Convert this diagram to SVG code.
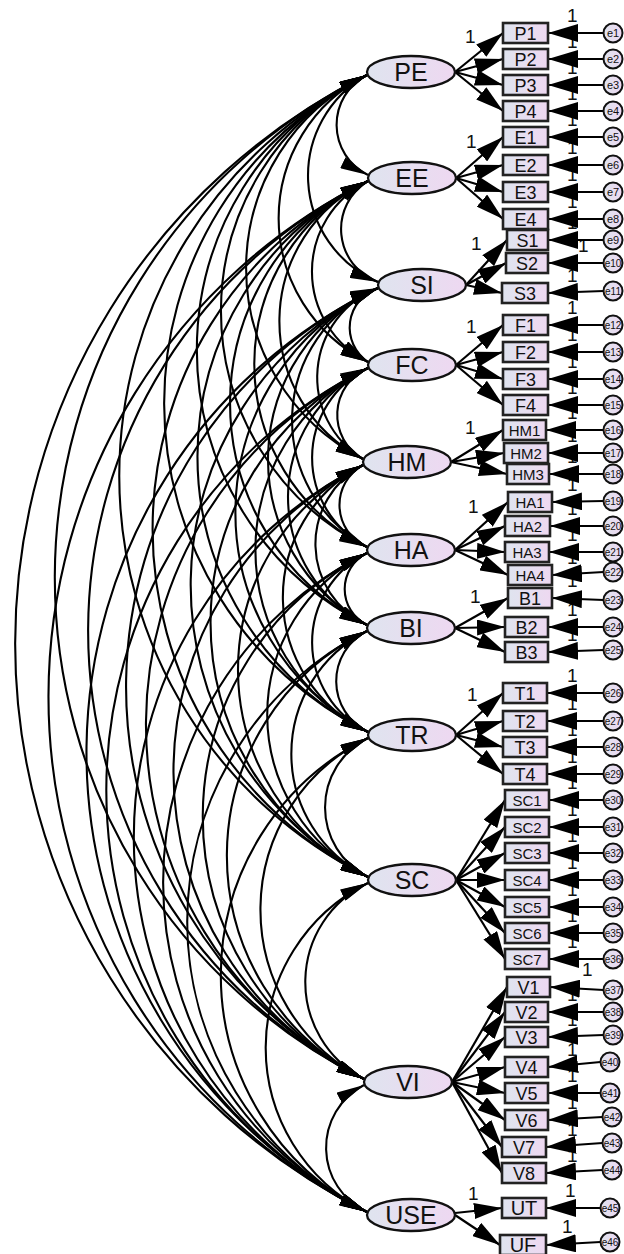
<svg xmlns="http://www.w3.org/2000/svg" width="624" height="1254" viewBox="0 0 624 1254">
<defs>
<linearGradient id="gf" x1="0" y1="0" x2="1" y2="0"><stop offset="0" stop-color="#dfe4ef"/><stop offset="1" stop-color="#eed8f1"/></linearGradient>
<marker id="ah" markerUnits="userSpaceOnUse" markerWidth="28" markerHeight="16" viewBox="0 0 28 16" refX="28" refY="8" orient="auto"><path d="M0,0 L28,8 L0,16 Z" fill="#000"/></marker>
<marker id="ae" markerUnits="userSpaceOnUse" markerWidth="30" markerHeight="18" viewBox="0 0 30 18" refX="30" refY="9" orient="auto"><path d="M0,0 L30,9 L0,18 Z" fill="#000"/></marker>
<marker id="ac" markerUnits="userSpaceOnUse" markerWidth="28" markerHeight="12" viewBox="0 0 28 12" refX="28" refY="6" orient="auto-start-reverse"><path d="M0,0 L28,6 L0,12 Z" fill="#000"/></marker>
<style>
.box{fill:url(#gf);stroke:#222;stroke-width:2.6}
.lat{fill:url(#gf);stroke:#111;stroke-width:2.3}
.err{fill:url(#gf);stroke:#111;stroke-width:2}
.t{font-family:"Liberation Sans",Arial,sans-serif;fill:#111;text-anchor:middle}
.b18{font-size:18px}.b15{font-size:15px}.b20{font-size:20px}.l25{font-size:25px}
.e10{font-size:11px}.e8{font-size:10px}
.one{font-family:"Liberation Sans",Arial,sans-serif;font-size:19px;fill:#111}
.cov{fill:none;stroke:#000;stroke-width:2.1;marker-start:url(#ac);marker-end:url(#ac)}
.ld{stroke:#000;stroke-width:2.2;marker-end:url(#ah)}
.ep{stroke:#000;stroke-width:2.2;marker-end:url(#ae)}
</style>
</defs>
<rect width="624" height="1254" fill="#fff"/>
<g id="connectors">
<g id="covariances">
<path class="cov" d="M367,75 A55.9,55.9 0 0 0 368,175"/>
<path class="cov" d="M367,75 A115.6,115.6 0 0 0 378,282"/>
<path class="cov" d="M367,75 A160.3,160.3 0 0 0 368,362"/>
<path class="cov" d="M367,75 A214.5,214.5 0 0 0 363,459"/>
<path class="cov" d="M367,75 A263.7,263.7 0 0 0 367,547"/>
<path class="cov" d="M367,75 A307.3,307.3 0 0 0 367,625"/>
<path class="cov" d="M367,75 A367,367 0 0 0 368,732"/>
<path class="cov" d="M367,75 A448,448 0 0 0 368,877"/>
<path class="cov" d="M367,75 A560.9,560.9 0 0 0 364,1079"/>
<path class="cov" d="M367,75 A635.2,635.2 0 0 0 367,1212"/>
<path class="cov" d="M368,181 A56.4,56.4 0 0 0 378,282"/>
<path class="cov" d="M368,181 A101.1,101.1 0 0 0 368,362"/>
<path class="cov" d="M368,181 A155.3,155.3 0 0 0 363,459"/>
<path class="cov" d="M368,181 A204.5,204.5 0 0 0 367,547"/>
<path class="cov" d="M368,181 A248,248 0 0 0 367,625"/>
<path class="cov" d="M368,181 A307.8,307.8 0 0 0 368,732"/>
<path class="cov" d="M368,181 A388.8,388.8 0 0 0 368,877"/>
<path class="cov" d="M368,181 A501.7,501.7 0 0 0 364,1079"/>
<path class="cov" d="M368,181 A576,576 0 0 0 367,1212"/>
<path class="cov" d="M378,288 A41.7,41.7 0 0 0 368,362"/>
<path class="cov" d="M378,288 A95.9,95.9 0 0 0 363,459"/>
<path class="cov" d="M378,288 A144.7,144.7 0 0 0 367,547"/>
<path class="cov" d="M378,288 A188.3,188.3 0 0 0 367,625"/>
<path class="cov" d="M378,288 A248,248 0 0 0 368,732"/>
<path class="cov" d="M378,288 A329.1,329.1 0 0 0 368,877"/>
<path class="cov" d="M378,288 A441.9,441.9 0 0 0 364,1079"/>
<path class="cov" d="M378,288 A516.2,516.2 0 0 0 367,1212"/>
<path class="cov" d="M368,368 A50.9,50.9 0 0 0 363,459"/>
<path class="cov" d="M368,368 A100,100 0 0 0 367,547"/>
<path class="cov" d="M368,368 A143.6,143.6 0 0 0 367,625"/>
<path class="cov" d="M368,368 A203.4,203.4 0 0 0 368,732"/>
<path class="cov" d="M368,368 A284.4,284.4 0 0 0 368,877"/>
<path class="cov" d="M368,368 A397.2,397.2 0 0 0 364,1079"/>
<path class="cov" d="M368,368 A471.5,471.5 0 0 0 367,1212"/>
<path class="cov" d="M363,465 A45.8,45.8 0 0 0 367,547"/>
<path class="cov" d="M363,465 A89.4,89.4 0 0 0 367,625"/>
<path class="cov" d="M363,465 A149.2,149.2 0 0 0 368,732"/>
<path class="cov" d="M363,465 A230.2,230.2 0 0 0 368,877"/>
<path class="cov" d="M363,465 A343,343 0 0 0 364,1079"/>
<path class="cov" d="M363,465 A417.3,417.3 0 0 0 367,1212"/>
<path class="cov" d="M367,553 A40.2,40.2 0 0 0 367,625"/>
<path class="cov" d="M367,553 A100,100 0 0 0 368,732"/>
<path class="cov" d="M367,553 A181,181 0 0 0 368,877"/>
<path class="cov" d="M367,553 A293.9,293.9 0 0 0 364,1079"/>
<path class="cov" d="M367,553 A368.2,368.2 0 0 0 367,1212"/>
<path class="cov" d="M367,631 A56.4,56.4 0 0 0 368,732"/>
<path class="cov" d="M367,631 A137.4,137.4 0 0 0 368,877"/>
<path class="cov" d="M367,631 A250.3,250.3 0 0 0 364,1079"/>
<path class="cov" d="M367,631 A324.6,324.6 0 0 0 367,1212"/>
<path class="cov" d="M368,738 A77.7,77.7 0 0 0 368,877"/>
<path class="cov" d="M368,738 A190.5,190.5 0 0 0 364,1079"/>
<path class="cov" d="M368,738 A264.8,264.8 0 0 0 367,1212"/>
<path class="cov" d="M368,883 A109.5,109.5 0 0 0 364,1079"/>
<path class="cov" d="M368,883 A183.8,183.8 0 0 0 367,1212"/>
<path class="cov" d="M364,1085 A70.9,70.9 0 0 0 367,1212"/>
</g>
<g id="loadings">
<line class="ld" x1="455" y1="72" x2="503" y2="33"/>
<line class="ld" x1="455" y1="72" x2="503" y2="59"/>
<line class="ld" x1="455" y1="72" x2="503" y2="85"/>
<line class="ld" x1="455" y1="72" x2="503" y2="111"/>
<line class="ld" x1="456" y1="178" x2="503" y2="137"/>
<line class="ld" x1="456" y1="178" x2="503" y2="165"/>
<line class="ld" x1="456" y1="178" x2="503" y2="192"/>
<line class="ld" x1="456" y1="178" x2="503" y2="219"/>
<line class="ld" x1="466" y1="285" x2="507" y2="240"/>
<line class="ld" x1="466" y1="285" x2="506" y2="263"/>
<line class="ld" x1="466" y1="285" x2="502" y2="293"/>
<line class="ld" x1="456" y1="365" x2="503" y2="325"/>
<line class="ld" x1="456" y1="365" x2="503" y2="352"/>
<line class="ld" x1="456" y1="365" x2="503" y2="379"/>
<line class="ld" x1="456" y1="365" x2="503" y2="405"/>
<line class="ld" x1="451" y1="462" x2="503" y2="430"/>
<line class="ld" x1="451" y1="462" x2="504" y2="453"/>
<line class="ld" x1="451" y1="462" x2="507" y2="474"/>
<line class="ld" x1="455" y1="550" x2="508" y2="502"/>
<line class="ld" x1="455" y1="550" x2="505" y2="526"/>
<line class="ld" x1="455" y1="550" x2="505" y2="552"/>
<line class="ld" x1="455" y1="550" x2="508" y2="575"/>
<line class="ld" x1="455" y1="628" x2="508" y2="598"/>
<line class="ld" x1="455" y1="628" x2="505" y2="627"/>
<line class="ld" x1="455" y1="628" x2="505" y2="652"/>
<line class="ld" x1="456" y1="735" x2="503" y2="693"/>
<line class="ld" x1="456" y1="735" x2="503" y2="721"/>
<line class="ld" x1="456" y1="735" x2="503" y2="747"/>
<line class="ld" x1="456" y1="735" x2="503" y2="774"/>
<line class="ld" x1="456" y1="880" x2="505" y2="800"/>
<line class="ld" x1="456" y1="880" x2="505" y2="827"/>
<line class="ld" x1="456" y1="880" x2="505" y2="853"/>
<line class="ld" x1="456" y1="880" x2="505" y2="880"/>
<line class="ld" x1="456" y1="880" x2="505" y2="907"/>
<line class="ld" x1="456" y1="880" x2="505" y2="933"/>
<line class="ld" x1="456" y1="880" x2="505" y2="959"/>
<line class="ld" x1="452" y1="1082" x2="507" y2="987"/>
<line class="ld" x1="452" y1="1082" x2="505" y2="1012"/>
<line class="ld" x1="452" y1="1082" x2="505" y2="1037"/>
<line class="ld" x1="452" y1="1082" x2="505" y2="1067"/>
<line class="ld" x1="452" y1="1082" x2="505" y2="1093"/>
<line class="ld" x1="452" y1="1082" x2="505" y2="1120"/>
<line class="ld" x1="452" y1="1082" x2="502" y2="1147"/>
<line class="ld" x1="452" y1="1082" x2="502" y2="1173"/>
<line class="ld" x1="455" y1="1213" x2="502" y2="1208"/>
<line class="ld" x1="455" y1="1215" x2="500" y2="1245"/>
</g>
<g id="loading-labels" class="one">
<text x="465" y="43">1</text>
<text x="466" y="148">1</text>
<text x="471" y="250">1</text>
<text x="466" y="333">1</text>
<text x="465" y="434">1</text>
<text x="468" y="513">1</text>
<text x="470" y="603">1</text>
<text x="467" y="701">1</text>
<text x="468" y="1200">1</text>
</g>
<g id="error-labels" class="one">
<text x="567" y="22">1</text><text x="567" y="48">1</text><text x="567" y="74">1</text><text x="567" y="100">1</text>
<text x="567" y="126">1</text><text x="567" y="154">1</text><text x="567" y="181">1</text><text x="567" y="208">1</text>
<text x="567" y="229">1</text><text x="578" y="252">1</text><text x="567" y="282">1</text>
<text x="567" y="314">1</text><text x="567" y="341">1</text><text x="567" y="368">1</text><text x="567" y="394">1</text>
<text x="567" y="419">1</text><text x="567" y="442">1</text><text x="567" y="463">1</text>
<text x="567" y="491">1</text><text x="567" y="515">1</text><text x="567" y="541">1</text><text x="567" y="564">1</text>
<text x="567" y="587">1</text><text x="567" y="616">1</text><text x="567" y="641">1</text>
<text x="567" y="682">1</text><text x="567" y="710">1</text><text x="567" y="736">1</text><text x="567" y="763">1</text>
<text x="567" y="789">1</text><text x="567" y="816">1</text><text x="567" y="842">1</text><text x="567" y="869">1</text>
<text x="567" y="896">1</text><text x="567" y="922">1</text><text x="567" y="948">1</text>
<text x="582" y="976">1</text><text x="567" y="1001">1</text><text x="567" y="1026">1</text><text x="567" y="1056">1</text>
<text x="567" y="1082">1</text><text x="567" y="1109">1</text><text x="567" y="1136">1</text><text x="567" y="1162">1</text>
<text x="565" y="1197">1</text><text x="562" y="1233">1</text>
</g>
<g id="error-paths">
<line class="ep" x1="603.5" y1="33" x2="548" y2="33"/>
<line class="ep" x1="603.5" y1="59" x2="548" y2="59"/>
<line class="ep" x1="603.5" y1="85" x2="548" y2="85"/>
<line class="ep" x1="603.5" y1="111" x2="548" y2="111"/>
<line class="ep" x1="603.5" y1="137" x2="548" y2="137"/>
<line class="ep" x1="603.5" y1="165" x2="548" y2="165"/>
<line class="ep" x1="603.5" y1="192" x2="548" y2="192"/>
<line class="ep" x1="603.5" y1="219" x2="548" y2="219"/>
<line class="ep" x1="603.5" y1="240" x2="548" y2="240"/>
<line class="ep" x1="603.5" y1="263" x2="548" y2="263"/>
<line class="ep" x1="603.5" y1="291" x2="548" y2="293"/>
<line class="ep" x1="603.5" y1="325" x2="548" y2="325"/>
<line class="ep" x1="603.5" y1="352" x2="548" y2="352"/>
<line class="ep" x1="603.5" y1="379" x2="548" y2="379"/>
<line class="ep" x1="603.5" y1="405" x2="548" y2="405"/>
<line class="ep" x1="603.5" y1="430" x2="546" y2="430"/>
<line class="ep" x1="603.5" y1="453" x2="548" y2="453"/>
<line class="ep" x1="603.5" y1="474" x2="549" y2="474"/>
<line class="ep" x1="603.5" y1="501" x2="552" y2="502"/>
<line class="ep" x1="603.5" y1="526" x2="550" y2="526"/>
<line class="ep" x1="603.5" y1="552" x2="549" y2="552"/>
<line class="ep" x1="603.5" y1="572" x2="552" y2="575"/>
<line class="ep" x1="603.5" y1="600" x2="552" y2="598"/>
<line class="ep" x1="603.5" y1="627" x2="548" y2="627"/>
<line class="ep" x1="603.5" y1="650" x2="548" y2="652"/>
<line class="ep" x1="603.5" y1="693" x2="547" y2="693"/>
<line class="ep" x1="603.5" y1="721" x2="547" y2="721"/>
<line class="ep" x1="603.5" y1="747" x2="547" y2="747"/>
<line class="ep" x1="603.5" y1="774" x2="547" y2="774"/>
<line class="ep" x1="603.5" y1="800" x2="549" y2="800"/>
<line class="ep" x1="603.5" y1="827" x2="549" y2="827"/>
<line class="ep" x1="603.5" y1="853" x2="549" y2="853"/>
<line class="ep" x1="603.5" y1="880" x2="549" y2="880"/>
<line class="ep" x1="603.5" y1="907" x2="549" y2="907"/>
<line class="ep" x1="603.5" y1="933" x2="549" y2="933"/>
<line class="ep" x1="603.5" y1="959" x2="549" y2="959"/>
<line class="ep" x1="603.5" y1="990" x2="550" y2="987"/>
<line class="ep" x1="603.5" y1="1012" x2="548" y2="1012"/>
<line class="ep" x1="603.5" y1="1035" x2="548" y2="1037"/>
<line class="ep" x1="600.5" y1="1062" x2="548" y2="1067"/>
<line class="ep" x1="600.5" y1="1093" x2="548" y2="1093"/>
<line class="ep" x1="602.5" y1="1117" x2="548" y2="1120"/>
<line class="ep" x1="602.5" y1="1143" x2="546" y2="1147"/>
<line class="ep" x1="602.5" y1="1170" x2="546" y2="1173"/>
<line class="ep" x1="600.5" y1="1208" x2="546" y2="1208"/>
<line class="ep" x1="600.5" y1="1242" x2="546" y2="1245"/>
</g>
</g>
<g id="latents">
<g id="PE"><ellipse class="lat" cx="411" cy="72" rx="44" ry="16"/><text class="t l25" x="411" y="81">PE</text></g>
<g id="EE"><ellipse class="lat" cx="412" cy="178" rx="44" ry="16"/><text class="t l25" x="412" y="187">EE</text></g>
<g id="SI"><ellipse class="lat" cx="422" cy="285" rx="44" ry="16"/><text class="t l25" x="422" y="294">SI</text></g>
<g id="FC"><ellipse class="lat" cx="412" cy="365" rx="44" ry="16"/><text class="t l25" x="412" y="374">FC</text></g>
<g id="HM"><ellipse class="lat" cx="407" cy="462" rx="44" ry="16"/><text class="t l25" x="407" y="471">HM</text></g>
<g id="HA"><ellipse class="lat" cx="411" cy="550" rx="44" ry="16"/><text class="t l25" x="411" y="559">HA</text></g>
<g id="BI"><ellipse class="lat" cx="411" cy="628" rx="44" ry="16"/><text class="t l25" x="411" y="637">BI</text></g>
<g id="TR"><ellipse class="lat" cx="412" cy="735" rx="44" ry="16"/><text class="t l25" x="412" y="744">TR</text></g>
<g id="SC"><ellipse class="lat" cx="412" cy="880" rx="44" ry="16"/><text class="t l25" x="412" y="889">SC</text></g>
<g id="VI"><ellipse class="lat" cx="408" cy="1082" rx="44" ry="16"/><text class="t l25" x="408" y="1091">VI</text></g>
<g id="USE"><ellipse class="lat" cx="411" cy="1215" rx="44" ry="16"/><text class="t l25" x="411" y="1224">USE</text></g>
</g>
<g id="indicators">
<g id="P1"><rect class="box" x="503" y="23" width="45" height="20"/><text class="t b18" x="525.5" y="39.5">P1</text></g>
<g id="P2"><rect class="box" x="503" y="49" width="45" height="20"/><text class="t b18" x="525.5" y="65.5">P2</text></g>
<g id="P3"><rect class="box" x="503" y="75" width="45" height="20"/><text class="t b18" x="525.5" y="91.5">P3</text></g>
<g id="P4"><rect class="box" x="503" y="101" width="45" height="20"/><text class="t b18" x="525.5" y="117.5">P4</text></g>
<g id="E1"><rect class="box" x="503" y="127" width="45" height="20"/><text class="t b18" x="525.5" y="143.5">E1</text></g>
<g id="E2"><rect class="box" x="503" y="155" width="45" height="20"/><text class="t b18" x="525.5" y="171.5">E2</text></g>
<g id="E3"><rect class="box" x="503" y="182" width="45" height="20"/><text class="t b18" x="525.5" y="198.5">E3</text></g>
<g id="E4"><rect class="box" x="503" y="209" width="45" height="20"/><text class="t b18" x="525.5" y="225.5">E4</text></g>
<g id="S1"><rect class="box" x="507" y="230" width="41" height="20"/><text class="t b18" x="527.5" y="246.5">S1</text></g>
<g id="S2"><rect class="box" x="506" y="253" width="42" height="20"/><text class="t b18" x="527" y="269.5">S2</text></g>
<g id="S3"><rect class="box" x="502" y="283" width="46" height="20"/><text class="t b18" x="525" y="299.5">S3</text></g>
<g id="F1"><rect class="box" x="503" y="315" width="45" height="20"/><text class="t b18" x="525.5" y="331.5">F1</text></g>
<g id="F2"><rect class="box" x="503" y="342" width="45" height="20"/><text class="t b18" x="525.5" y="358.5">F2</text></g>
<g id="F3"><rect class="box" x="503" y="369" width="45" height="20"/><text class="t b18" x="525.5" y="385.5">F3</text></g>
<g id="F4"><rect class="box" x="503" y="395" width="45" height="20"/><text class="t b18" x="525.5" y="411.5">F4</text></g>
<g id="HM1"><rect class="box" x="503" y="420" width="43" height="20"/><text class="t b15" x="524.5" y="435.5">HM1</text></g>
<g id="HM2"><rect class="box" x="504" y="443" width="44" height="20"/><text class="t b15" x="526" y="458.5">HM2</text></g>
<g id="HM3"><rect class="box" x="507" y="464" width="42" height="20"/><text class="t b15" x="528" y="479.5">HM3</text></g>
<g id="HA1"><rect class="box" x="508" y="492" width="44" height="20"/><text class="t b15" x="530" y="507.5">HA1</text></g>
<g id="HA2"><rect class="box" x="505" y="516" width="45" height="20"/><text class="t b15" x="527.5" y="531.5">HA2</text></g>
<g id="HA3"><rect class="box" x="505" y="542" width="44" height="20"/><text class="t b15" x="527" y="557.5">HA3</text></g>
<g id="HA4"><rect class="box" x="508" y="565" width="44" height="20"/><text class="t b15" x="530" y="580.5">HA4</text></g>
<g id="B1"><rect class="box" x="508" y="588" width="44" height="20"/><text class="t b18" x="530" y="604.5">B1</text></g>
<g id="B2"><rect class="box" x="505" y="617" width="43" height="20"/><text class="t b18" x="526.5" y="633.5">B2</text></g>
<g id="B3"><rect class="box" x="505" y="642" width="43" height="20"/><text class="t b18" x="526.5" y="658.5">B3</text></g>
<g id="T1"><rect class="box" x="503" y="683" width="44" height="20"/><text class="t b18" x="525" y="699.5">T1</text></g>
<g id="T2"><rect class="box" x="503" y="711" width="44" height="20"/><text class="t b18" x="525" y="727.5">T2</text></g>
<g id="T3"><rect class="box" x="503" y="737" width="44" height="20"/><text class="t b18" x="525" y="753.5">T3</text></g>
<g id="T4"><rect class="box" x="503" y="764" width="44" height="20"/><text class="t b18" x="525" y="780.5">T4</text></g>
<g id="SC1"><rect class="box" x="505" y="790" width="44" height="20"/><text class="t b15" x="527" y="805.5">SC1</text></g>
<g id="SC2"><rect class="box" x="505" y="817" width="44" height="20"/><text class="t b15" x="527" y="832.5">SC2</text></g>
<g id="SC3"><rect class="box" x="505" y="843" width="44" height="20"/><text class="t b15" x="527" y="858.5">SC3</text></g>
<g id="SC4"><rect class="box" x="505" y="870" width="44" height="20"/><text class="t b15" x="527" y="885.5">SC4</text></g>
<g id="SC5"><rect class="box" x="505" y="897" width="44" height="20"/><text class="t b15" x="527" y="912.5">SC5</text></g>
<g id="SC6"><rect class="box" x="505" y="923" width="44" height="20"/><text class="t b15" x="527" y="938.5">SC6</text></g>
<g id="SC7"><rect class="box" x="505" y="949" width="44" height="20"/><text class="t b15" x="527" y="964.5">SC7</text></g>
<g id="V1"><rect class="box" x="507" y="977" width="43" height="20"/><text class="t b18" x="528.5" y="993.5">V1</text></g>
<g id="V2"><rect class="box" x="505" y="1002" width="43" height="20"/><text class="t b18" x="526.5" y="1018.5">V2</text></g>
<g id="V3"><rect class="box" x="505" y="1027" width="43" height="20"/><text class="t b18" x="526.5" y="1043.5">V3</text></g>
<g id="V4"><rect class="box" x="505" y="1057" width="43" height="20"/><text class="t b18" x="526.5" y="1073.5">V4</text></g>
<g id="V5"><rect class="box" x="505" y="1083" width="43" height="20"/><text class="t b18" x="526.5" y="1099.5">V5</text></g>
<g id="V6"><rect class="box" x="505" y="1110" width="43" height="20"/><text class="t b18" x="526.5" y="1126.5">V6</text></g>
<g id="V7"><rect class="box" x="502" y="1137" width="44" height="20"/><text class="t b18" x="524" y="1153.5">V7</text></g>
<g id="V8"><rect class="box" x="502" y="1163" width="44" height="20"/><text class="t b18" x="524" y="1179.5">V8</text></g>
<g id="UT"><rect class="box" x="502" y="1198" width="44" height="20"/><text class="t b20" x="524" y="1215">UT</text></g>
<g id="UF"><rect class="box" x="500" y="1235" width="46" height="20"/><text class="t b20" x="523" y="1252">UF</text></g>
</g>
<g id="errors">
<g id="e1"><circle class="err" cx="613" cy="33" r="9.5"/><text class="t e10" x="613" y="37">e1</text></g>
<g id="e2"><circle class="err" cx="613" cy="59" r="9.5"/><text class="t e10" x="613" y="63">e2</text></g>
<g id="e3"><circle class="err" cx="613" cy="85" r="9.5"/><text class="t e10" x="613" y="89">e3</text></g>
<g id="e4"><circle class="err" cx="613" cy="111" r="9.5"/><text class="t e10" x="613" y="115">e4</text></g>
<g id="e5"><circle class="err" cx="613" cy="137" r="9.5"/><text class="t e10" x="613" y="141">e5</text></g>
<g id="e6"><circle class="err" cx="613" cy="165" r="9.5"/><text class="t e10" x="613" y="169">e6</text></g>
<g id="e7"><circle class="err" cx="613" cy="192" r="9.5"/><text class="t e10" x="613" y="196">e7</text></g>
<g id="e8"><circle class="err" cx="613" cy="219" r="9.5"/><text class="t e10" x="613" y="223">e8</text></g>
<g id="e9"><circle class="err" cx="613" cy="240" r="9.5"/><text class="t e10" x="613" y="244">e9</text></g>
<g id="e10"><circle class="err" cx="613" cy="263" r="9.5"/><text class="t e8" x="613" y="266.5">e10</text></g>
<g id="e11"><circle class="err" cx="613" cy="291" r="9.5"/><text class="t e8" x="613" y="294.5">e11</text></g>
<g id="e12"><circle class="err" cx="613" cy="325" r="9.5"/><text class="t e8" x="613" y="328.5">e12</text></g>
<g id="e13"><circle class="err" cx="613" cy="352" r="9.5"/><text class="t e8" x="613" y="355.5">e13</text></g>
<g id="e14"><circle class="err" cx="613" cy="379" r="9.5"/><text class="t e8" x="613" y="382.5">e14</text></g>
<g id="e15"><circle class="err" cx="613" cy="405" r="9.5"/><text class="t e8" x="613" y="408.5">e15</text></g>
<g id="e16"><circle class="err" cx="613" cy="430" r="9.5"/><text class="t e8" x="613" y="433.5">e16</text></g>
<g id="e17"><circle class="err" cx="613" cy="453" r="9.5"/><text class="t e8" x="613" y="456.5">e17</text></g>
<g id="e18"><circle class="err" cx="613" cy="474" r="9.5"/><text class="t e8" x="613" y="477.5">e18</text></g>
<g id="e19"><circle class="err" cx="613" cy="501" r="9.5"/><text class="t e8" x="613" y="504.5">e19</text></g>
<g id="e20"><circle class="err" cx="613" cy="526" r="9.5"/><text class="t e8" x="613" y="529.5">e20</text></g>
<g id="e21"><circle class="err" cx="613" cy="552" r="9.5"/><text class="t e8" x="613" y="555.5">e21</text></g>
<g id="e22"><circle class="err" cx="613" cy="572" r="9.5"/><text class="t e8" x="613" y="575.5">e22</text></g>
<g id="e23"><circle class="err" cx="613" cy="600" r="9.5"/><text class="t e8" x="613" y="603.5">e23</text></g>
<g id="e24"><circle class="err" cx="613" cy="627" r="9.5"/><text class="t e8" x="613" y="630.5">e24</text></g>
<g id="e25"><circle class="err" cx="613" cy="650" r="9.5"/><text class="t e8" x="613" y="653.5">e25</text></g>
<g id="e26"><circle class="err" cx="613" cy="693" r="9.5"/><text class="t e8" x="613" y="696.5">e26</text></g>
<g id="e27"><circle class="err" cx="613" cy="721" r="9.5"/><text class="t e8" x="613" y="724.5">e27</text></g>
<g id="e28"><circle class="err" cx="613" cy="747" r="9.5"/><text class="t e8" x="613" y="750.5">e28</text></g>
<g id="e29"><circle class="err" cx="613" cy="774" r="9.5"/><text class="t e8" x="613" y="777.5">e29</text></g>
<g id="e30"><circle class="err" cx="613" cy="800" r="9.5"/><text class="t e8" x="613" y="803.5">e30</text></g>
<g id="e31"><circle class="err" cx="613" cy="827" r="9.5"/><text class="t e8" x="613" y="830.5">e31</text></g>
<g id="e32"><circle class="err" cx="613" cy="853" r="9.5"/><text class="t e8" x="613" y="856.5">e32</text></g>
<g id="e33"><circle class="err" cx="613" cy="880" r="9.5"/><text class="t e8" x="613" y="883.5">e33</text></g>
<g id="e34"><circle class="err" cx="613" cy="907" r="9.5"/><text class="t e8" x="613" y="910.5">e34</text></g>
<g id="e35"><circle class="err" cx="613" cy="933" r="9.5"/><text class="t e8" x="613" y="936.5">e35</text></g>
<g id="e36"><circle class="err" cx="613" cy="959" r="9.5"/><text class="t e8" x="613" y="962.5">e36</text></g>
<g id="e37"><circle class="err" cx="613" cy="990" r="9.5"/><text class="t e8" x="613" y="993.5">e37</text></g>
<g id="e38"><circle class="err" cx="613" cy="1012" r="9.5"/><text class="t e8" x="613" y="1015.5">e38</text></g>
<g id="e39"><circle class="err" cx="613" cy="1035" r="9.5"/><text class="t e8" x="613" y="1038.5">e39</text></g>
<g id="e40"><circle class="err" cx="610" cy="1062" r="9.5"/><text class="t e8" x="610" y="1065.5">e40</text></g>
<g id="e41"><circle class="err" cx="610" cy="1093" r="9.5"/><text class="t e8" x="610" y="1096.5">e41</text></g>
<g id="e42"><circle class="err" cx="612" cy="1117" r="9.5"/><text class="t e8" x="612" y="1120.5">e42</text></g>
<g id="e43"><circle class="err" cx="612" cy="1143" r="9.5"/><text class="t e8" x="612" y="1146.5">e43</text></g>
<g id="e44"><circle class="err" cx="612" cy="1170" r="9.5"/><text class="t e8" x="612" y="1173.5">e44</text></g>
<g id="e45"><circle class="err" cx="610" cy="1208" r="9.5"/><text class="t e8" x="610" y="1211.5">e45</text></g>
<g id="e46"><circle class="err" cx="610" cy="1242" r="9.5"/><text class="t e8" x="610" y="1245.5">e46</text></g>
</g>
</svg>
